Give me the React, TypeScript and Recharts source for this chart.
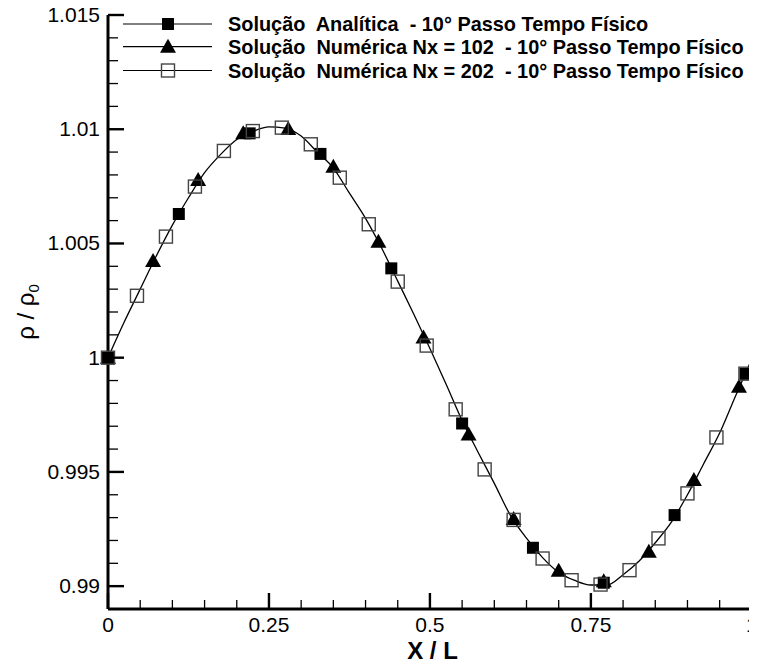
import React from 'react';
import { ComposedChart, Line, Scatter, XAxis, YAxis } from 'recharts';

// ---- data ----
const curveX = [0, 0.025, 0.05, 0.075, 0.1, 0.125, 0.15, 0.175, 0.2, 0.225, 0.25, 0.275, 0.3, 0.325, 0.35, 0.375, 0.4, 0.425, 0.45, 0.475, 0.5, 0.525, 0.55, 0.575, 0.6, 0.625, 0.65, 0.675, 0.7, 0.725, 0.75, 0.775, 0.8, 0.825, 0.85, 0.875, 0.9, 0.925, 0.95, 0.975, 1.0, 1.008];
const curveY = [1.0, 1.00155, 1.003, 1.00445, 1.0058, 1.007, 1.0081, 1.0089, 1.00955, 1.0099, 1.0101, 1.01005, 1.0097, 1.009, 1.0083, 1.0072, 1.0061, 1.0048, 1.00335, 1.0019, 1.0004, 0.99885, 0.99725, 0.99585, 0.9945, 0.9931, 0.9921, 0.99125, 0.9906, 0.99025, 0.99005, 0.99005, 0.9905, 0.9911, 0.9919, 0.9928, 0.994, 0.99535, 0.9967, 0.99835, 0.99995, 1.00045];

const analyticX = [0, 0.11, 0.22, 0.33, 0.44, 0.55, 0.66, 0.77, 0.88, 0.99];
const analyticY = [1.0, 1.00629, 1.00982, 1.00892, 1.00391, 0.99712, 0.99168, 0.99015, 0.99311, 0.99929];

const nx102X = [0, 0.07, 0.14, 0.21, 0.28, 0.35, 0.42, 0.49, 0.56, 0.63, 0.7, 0.77, 0.84, 0.91, 0.98];
const nx102Y = [1.0, 1.00423, 1.00778, 1.00982, 1.01001, 1.00836, 1.00508, 1.00088, 0.99664, 0.99294, 0.99067, 0.99022, 0.99151, 0.99465, 0.99873];

const nx202X = [0, 0.045, 0.09, 0.135, 0.18, 0.225, 0.27, 0.315, 0.36, 0.405, 0.45, 0.495, 0.54, 0.585, 0.63, 0.675, 0.72, 0.765, 0.81, 0.855, 0.9, 0.945, 0.99];
const nx202Y = [1.0, 1.00271, 1.0053, 1.00749, 1.00905, 1.00992, 1.01007, 1.00934, 1.00788, 1.00584, 1.00333, 1.00053, 0.99774, 0.99511, 0.9929, 0.99121, 0.99026, 0.99007, 0.9907, 0.99209, 0.99406, 0.99651, 0.9993];

const xTicks = [0, 0.05, 0.1, 0.15, 0.2, 0.25, 0.3, 0.35, 0.4, 0.45, 0.5, 0.55, 0.6, 0.65, 0.7, 0.75, 0.8, 0.85, 0.9, 0.95, 1];
const yTicks = [0.99, 0.991, 0.992, 0.993, 0.994, 0.995, 0.996, 0.997, 0.998, 0.999, 1, 1.001, 1.002, 1.003, 1.004, 1.005, 1.006, 1.007, 1.008, 1.009, 1.01, 1.011, 1.012, 1.013, 1.014, 1.015];

const legendLabels = [
  'Solução  Analítica  - 10° Passo Tempo Físico',
  'Solução  Numérica Nx = 102  - 10° Passo Tempo Físico',
  'Solução  Numérica Nx = 202  - 10° Passo Tempo Físico',
];
const xLabel = 'X / L';
const yLabelMain = 'ρ / ρ';
const yLabelSub = '0';

const toPoints = (xs: number[], ys: number[]) => xs.map((x, i) => ({ x, y: ys[i] }));
const curveData = toPoints(curveX, curveY);
const analyticData = toPoints(analyticX, analyticY);
const nx102Data = toPoints(nx102X, nx102Y);
const nx202Data = toPoints(nx202X, nx202Y);

const FONT = '"Liberation Sans", Arial, Helvetica, sans-serif';

const FilledSquare = (p: any) => (
  <rect x={p.cx - 6} y={p.cy - 6} width={12} height={12} fill="#000" />
);
const Triangle = (p: any) => (
  <polygon points={`${p.cx - 8},${p.cy + 6} ${p.cx + 8},${p.cy + 6} ${p.cx},${p.cy - 8}`} fill="#000" />
);
const OpenSquare = (p: any) => (
  <rect x={p.cx - 6.5} y={p.cy - 6.5} width={13} height={13} fill="none" stroke="#444" strokeWidth={1.4} />
);

const isMultiple = (v: number, step: number) => Math.abs(v / step - Math.round(v / step)) < 1e-6;

const XTick = (props: any) => {
  const { x, y, payload } = props;
  const v = payload.value;
  const major = isMultiple(v, 0.25);
  return (
    <g>
      <line x1={x} x2={x} y1={y} y2={y - (major ? 16 : 9)} stroke="#000" strokeWidth={major ? 2.4 : 1.3} />
      {major && (
        <text x={x} y={y + 23} textAnchor="middle" fontFamily={FONT} fontSize={21} fill="#000">
          {String(v)}
        </text>
      )}
    </g>
  );
};

const YTick = (props: any) => {
  const { x, y, payload } = props;
  const v = payload.value;
  const major = isMultiple(v, 0.005);
  return (
    <g>
      <line x1={x} x2={x + (major ? 16 : 10)} y1={y} y2={y} stroke="#000" strokeWidth={major ? 2.4 : 1.3} />
      {major && (
        <text x={x - 8} y={y + 7} textAnchor="end" fontFamily={FONT} fontSize={21} fill="#000">
          {String(v)}
        </text>
      )}
    </g>
  );
};

const XLabelC = (props: any) => {
  const vb = props.viewBox || { x: 108, y: 609, width: 649, height: 30 };
  return (
    <text x={vb.x + vb.width / 2} y={659} textAnchor="middle" fontFamily={FONT} fontSize={24} fontWeight="bold" fill="#000" style={{ whiteSpace: 'pre' }}>
      {xLabel}
    </text>
  );
};

const YLabelC = (props: any) => {
  const vb = props.viewBox || { x: 0, y: 15, width: 108, height: 594 };
  const cy = vb.y + vb.height / 2;
  return (
    <text transform={`translate(34,${cy}) rotate(-90)`} textAnchor="middle" fontFamily={FONT} fontSize={24} fill="#000">
      <tspan>{yLabelMain}</tspan>
      <tspan dy={5} fontSize={15}>{yLabelSub}</tspan>
    </text>
  );
};

const legendShapes = [FilledSquare, Triangle, OpenSquare];
const LegendBlock = () => {
  const rows = [24, 46.7, 70.5];
  return (
    <g>
      {legendLabels.map((lab, i) => {
        const S = legendShapes[i];
        const ry = rows[i];
        return (
          <g key={i}>
            <line x1={123} x2={212} y1={ry} y2={ry} stroke="#000" strokeWidth={1.2} />
            <S cx={168} cy={ry} />
            <text x={228} y={ry + 7} fontFamily={FONT} fontSize={19.9} fontWeight="bold" fill="#000" style={{ whiteSpace: 'pre' }}>
              {lab}
            </text>
          </g>
        );
      })}
    </g>
  );
};

export default function App() {
  return (
    <div style={{ margin: -8, width: 757, height: 670, overflow: 'hidden' }}>
      <ComposedChart width={757} height={670} margin={{ top: 15, right: 0, bottom: 31, left: 0 }}>
        <XAxis
          type="number"
          dataKey="x"
          domain={[0, 1.008]}
          ticks={xTicks}
          interval={0}
          tickSize={0}
          tickMargin={0}
          tickLine={false}
          axisLine={{ stroke: '#000', strokeWidth: 3 }}
          tick={<XTick />}
          height={30}
          label={<XLabelC />}
        />
        <YAxis
          type="number"
          dataKey="y"
          domain={[0.989, 1.015]}
          ticks={yTicks}
          interval={0}
          tickSize={0}
          tickMargin={0}
          tickLine={false}
          axisLine={{ stroke: '#000', strokeWidth: 3 }}
          tick={<YTick />}
          width={108}
          label={<YLabelC />}
        />
        <Line data={curveData} dataKey="y" type="monotone" stroke="#000" strokeWidth={1.3} dot={false} activeDot={false} isAnimationActive={false} />
        <Scatter data={analyticData} dataKey="y" shape={FilledSquare} isAnimationActive={false} />
        <Scatter data={nx102Data} dataKey="y" shape={Triangle} isAnimationActive={false} />
        <Scatter data={nx202Data} dataKey="y" shape={OpenSquare} isAnimationActive={false} />
        <LegendBlock />
      </ComposedChart>
    </div>
  );
}
